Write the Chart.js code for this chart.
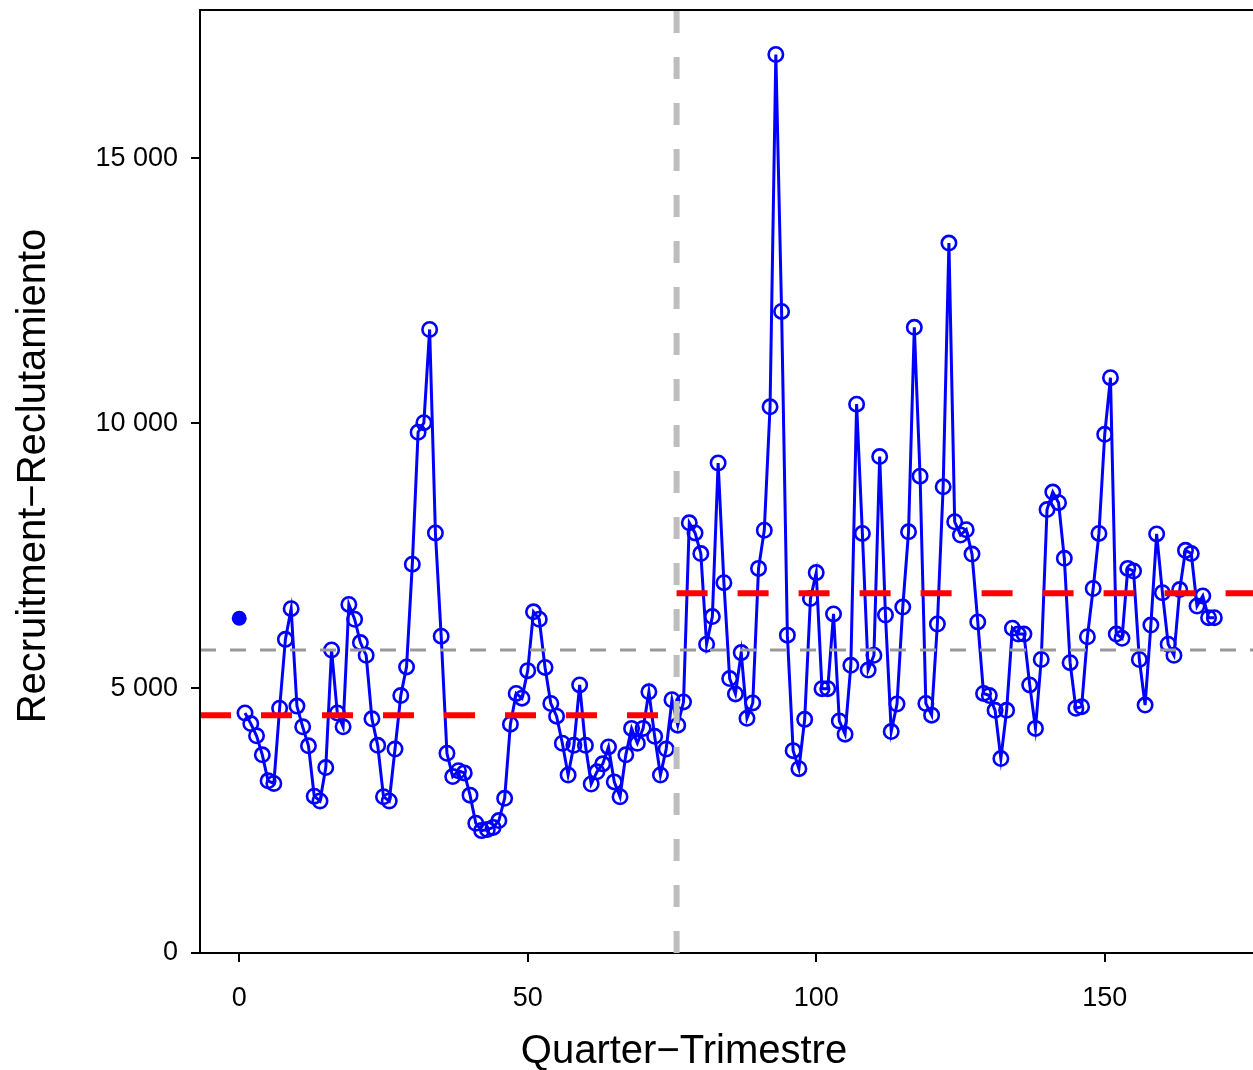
<!DOCTYPE html>
<html>
<head>
<meta charset="utf-8">
<script src="https://cdn.jsdelivr.net/npm/chart.js@4.4.1/dist/chart.umd.min.js"></script>
<style>
  html, body { margin: 0; padding: 0; background: #ffffff; }
  #chart { display: block; }
</style>
</head>
<body>
<canvas id="chart" width="1253" height="1070"></canvas>
<script>
// Quarterly recruitment, quarters 1..169 (open circles); quarter 0 is the separate filled point
const recruitment = [
  4530, 4330, 4100, 3740, 3250, 3200, 4620, 5920, 6500, 4660,
  4270, 3910, 2960, 2870, 3500, 5720, 4530, 4270, 6580, 6300,
  5860, 5620, 4420, 3920, 2950, 2870, 3850, 4860, 5400, 7340,
  9830, 10010, 11770, 7930, 5980, 3770, 3330, 3440, 3400, 2980,
  2450, 2310, 2330, 2370, 2500, 2920, 4320, 4900, 4810, 5330,
  6440, 6300, 5390, 4710, 4470, 3960, 3360, 3920, 5060, 3920,
  3190, 3420, 3570, 3890, 3230, 2950, 3740, 4240, 3960, 4240,
  4930, 4090, 3360, 3850, 4780, 4300, 4740, 8120, 7930, 7540,
  5830, 6350, 9250, 6990, 5180, 4890, 5670, 4430, 4720, 7260,
  7980, 10310, 16960, 12110, 6000, 3820, 3480, 4410, 6690, 7180,
  4990, 4990, 6400, 4380, 4130, 5430, 10360, 7920, 5340, 5620,
  9370, 6380, 4180, 4700, 6530, 7950, 11810, 9000, 4710, 4490,
  6210, 8800, 13400, 8140, 7890, 7990, 7530, 6250, 4900, 4860,
  4580, 3670, 4580, 6130, 6020, 6020, 5060, 4240, 5540, 8370,
  8700, 8500, 7450, 5480, 4620, 4650, 5970, 6880, 7920, 9790,
  10860, 6020, 5940, 7260, 7210, 5540, 4680, 6190, 7910, 6800,
  5830, 5620, 6860, 7600, 7540, 6550, 6740, 6330, 6330
];
const firstQuarter = 1;
const initialPoint = { quarter: 0, value: 6320 };

const overallMean = 5720;
const regimeBreak = 75.8;
const regimeMeans = [4490, 6790];

const xTicks = [0, 50, 100, 150];
const yTicks = [0, 5000, 10000, 15000];
const xRange = [-6.8, 175.7];
const yRange = [0, 17800];

const FONT = "'Liberation Sans', Arial, sans-serif";

const seriesPoints = recruitment.map((v, i) => ({ x: firstQuarter + i, y: v }));

// axis titles and plot frame are drawn by hand to place them like the original
const framePlugin = {
  id: 'frame',
  afterDraw(chart) {
    const { ctx, chartArea } = chart;
    ctx.save();
    ctx.strokeStyle = '#000000';
    ctx.lineWidth = 2;
    ctx.beginPath();
    ctx.moveTo(chartArea.left, chartArea.bottom);
    ctx.lineTo(chartArea.left, chartArea.top);
    ctx.lineTo(chartArea.right, chartArea.top);
    ctx.stroke();

    ctx.fillStyle = '#000000';
    ctx.font = `40px ${FONT}`;
    ctx.textAlign = 'center';
    ctx.textBaseline = 'alphabetic';
    ctx.fillText('Quarter\u2212Trimestre', 684, 1063);

    ctx.translate(45, 476);
    ctx.rotate(-Math.PI / 2);
    ctx.fillText('Recruitment\u2212Reclutamiento', 0, 0);
    ctx.restore();
  }
};

// drop the label overhang padding so the plot box fills the canvas like the original
const noOverhang = (scale) => {
  scale.paddingTop = 0;
  scale.paddingBottom = 0;
  scale.paddingLeft = 0;
  scale.paddingRight = 0;
};

const ctx = document.getElementById('chart').getContext('2d');
new Chart(ctx, {
  type: 'line',
  data: {
    datasets: [
      {
        label: 'break',
        data: [{ x: regimeBreak, y: yRange[0] }, { x: regimeBreak, y: yRange[1] }],
        borderColor: '#bebebe',
        borderWidth: 6,
        borderDash: [22, 24],
        pointRadius: 0,
        order: 1
      },
      {
        label: 'regime before',
        data: [{ x: xRange[0], y: regimeMeans[0] }, { x: regimeBreak, y: regimeMeans[0] }],
        borderColor: '#ff0000',
        borderWidth: 6,
        borderDash: [31, 30],
        pointRadius: 0,
        order: 2
      },
      {
        label: 'regime after',
        data: [{ x: regimeBreak, y: regimeMeans[1] }, { x: xRange[1], y: regimeMeans[1] }],
        borderColor: '#ff0000',
        borderWidth: 6,
        borderDash: [31, 30],
        pointRadius: 0,
        order: 2
      },
      {
        label: 'mean',
        data: [{ x: xRange[0], y: overallMean }, { x: xRange[1], y: overallMean }],
        borderColor: '#999999',
        borderWidth: 3,
        borderDash: [16, 14],
        pointRadius: 0,
        order: 3
      },
      {
        label: 'recruitment',
        data: seriesPoints,
        borderColor: '#0000ff',
        borderWidth: 3,
        pointRadius: 7.2,
        pointBorderWidth: 2.6,
        pointBorderColor: '#0000ff',
        pointBackgroundColor: 'rgba(0,0,0,0)',
        tension: 0,
        order: 4
      },
      {
        label: 'initial',
        data: [{ x: initialPoint.quarter, y: initialPoint.value }],
        showLine: false,
        pointRadius: 7.5,
        pointBorderWidth: 0,
        pointBackgroundColor: '#0000ff',
        order: 5
      }
    ]
  },
  options: {
    responsive: false,
    animation: false,
    devicePixelRatio: 1,
    layout: { autoPadding: false, padding: { top: 10, right: 0, left: 0, bottom: 0 } },
    plugins: {
      legend: { display: false },
      tooltip: { enabled: false }
    },
    scales: {
      x: {
        type: 'linear',
        min: xRange[0],
        max: xRange[1],
        afterBuildTicks: (scale) => { scale.ticks = xTicks.map(v => ({ value: v })); },
        afterFit: (scale) => { scale.height = 117; noOverhang(scale); },
        grid: { drawOnChartArea: false, drawTicks: true, tickLength: 9, color: '#000000', lineWidth: 2 },
        border: { display: true, color: '#000000', width: 2 },
        ticks: {
          color: '#000000',
          font: { family: FONT, size: 27 },
          padding: 20,
          maxRotation: 0,
          autoSkip: false
        }
      },
      y: {
        type: 'linear',
        min: yRange[0],
        max: yRange[1],
        afterBuildTicks: (scale) => { scale.ticks = yTicks.map(v => ({ value: v })); },
        afterFit: (scale) => { scale.width = 200; noOverhang(scale); },
        grid: { drawOnChartArea: false, drawTicks: true, tickLength: 9, color: '#000000', lineWidth: 2 },
        border: { display: true, color: '#000000', width: 2 },
        ticks: {
          color: '#000000',
          font: { family: FONT, size: 27 },
          padding: 13,
          autoSkip: false,
          callback: (v) => String(v).replace(/\B(?=(\d{3})+(?!\d))/g, ' ')
        }
      }
    }
  },
  plugins: [framePlugin]
});
</script>
</body>
</html>
